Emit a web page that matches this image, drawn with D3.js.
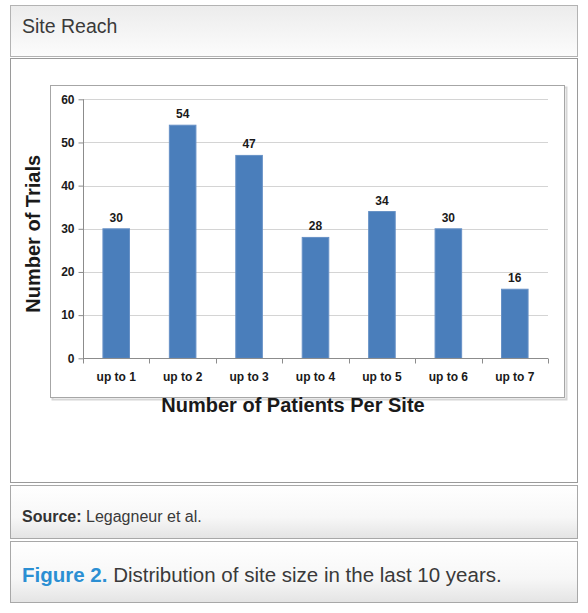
<!DOCTYPE html>
<html>
<head>
<meta charset="utf-8">
<script src="https://cdn.jsdelivr.net/npm/d3@7"></script>
<style>
  body { margin: 0; background: #fff; }
  svg { display: block; }
  .tick text { font-family: "Liberation Sans Narrow", "Liberation Sans", Arial, sans-serif; font-weight: bold; fill: #1a1a1a; }
</style>
</head>
<body>
<div id="chart"></div>
<script>
const categories = ['up to 1', 'up to 2', 'up to 3', 'up to 4', 'up to 5', 'up to 6', 'up to 7'];
const trials = [30, 54, 47, 28, 34, 30, 16];
const yTicks = [0, 10, 20, 30, 40, 50, 60];

const W = 588, H = 613;
const plot = { left: 83, right: 548, top: 99.3, bottom: 358.3 };

const svg = d3.select('#chart').append('svg')
  .attr('width', W)
  .attr('height', H);

const defs = svg.append('defs');
const gHead = defs.append('linearGradient').attr('id', 'gHead').attr('x1', 0).attr('y1', 0).attr('x2', 0).attr('y2', 1);
gHead.append('stop').attr('offset', '0%').attr('stop-color', '#ececec');
gHead.append('stop').attr('offset', '100%').attr('stop-color', '#fcfcfc');
const gFoot = defs.append('linearGradient').attr('id', 'gFoot').attr('x1', 0).attr('y1', 0).attr('x2', 0).attr('y2', 1);
gFoot.append('stop').attr('offset', '0%').attr('stop-color', '#ffffff');
gFoot.append('stop').attr('offset', '60%').attr('stop-color', '#f7f7f7');
gFoot.append('stop').attr('offset', '100%').attr('stop-color', '#e4e4e4');

// frames
svg.append('rect').attr('x', 10.5).attr('y', 5.5).attr('width', 567).attr('height', 51)
  .attr('fill', 'url(#gHead)').attr('stroke', '#b3b3b3');
svg.append('rect').attr('x', 10.5).attr('y', 58.5).attr('width', 567).attr('height', 424)
  .attr('fill', '#fff').attr('stroke', '#9a9a9a');
svg.append('rect').attr('x', 10.5).attr('y', 485.5).attr('width', 567).attr('height', 53)
  .attr('fill', 'url(#gFoot)').attr('stroke', '#a8a8a8');
svg.append('rect').attr('x', 10.5).attr('y', 541.5).attr('width', 567).attr('height', 61)
  .attr('fill', 'url(#gFoot)').attr('stroke', '#a8a8a8');

svg.append('text')
  .attr('x', 22).attr('y', 33)
  .style('font-family', '"Liberation Sans", Arial, sans-serif')
  .style('font-size', '19.5px')
  .attr('fill', '#3a3a3a')
  .text('Site Reach');

const src = svg.append('text')
  .attr('x', 22).attr('y', 522)
  .style('font-family', '"Liberation Sans", Arial, sans-serif')
  .style('font-size', '16px')
  .attr('fill', '#3a3a3a');
src.append('tspan').style('font-weight', 'bold').attr('fill', '#333').text('Source:');
src.append('tspan').text(' Legagneur et al.');

const fig = svg.append('text')
  .attr('x', 22).attr('y', 582)
  .style('font-family', '"Liberation Sans", Arial, sans-serif')
  .style('font-size', '20.5px')
  .attr('fill', '#3a3a3a');
fig.append('tspan').style('font-weight', 'bold').attr('fill', '#2b8fd3').text('Figure 2.');
fig.append('tspan').text(' Distribution of site size in the last 10 years.');

// chart area border with light shadow
svg.append('rect').attr('x', 52.5).attr('y', 87.5).attr('width', 514).attr('height', 312)
  .attr('fill', 'none').attr('stroke', '#d6d6d6').attr('stroke-width', 2);
svg.append('rect').attr('x', 50.5).attr('y', 85.5).attr('width', 514).attr('height', 312)
  .attr('fill', '#fff').attr('stroke', '#a6a6a6');

const x = d3.scaleBand()
  .domain(categories)
  .range([plot.left, plot.right])
  .paddingInner(0.6)
  .paddingOuter(0.3);

const y = d3.scaleLinear()
  .domain([0, 60])
  .range([plot.bottom, plot.top]);

// gridlines
svg.append('g')
  .selectAll('line')
  .data(yTicks.filter(d => d > 0))
  .join('line')
    .attr('x1', plot.left).attr('x2', plot.right)
    .attr('y1', d => Math.round(y(d)) + 0.5).attr('y2', d => Math.round(y(d)) + 0.5)
    .attr('stroke', '#d4d4d4');

// bars
svg.append('g')
  .selectAll('rect')
  .data(trials)
  .join('rect')
    .attr('x', (d, i) => x(categories[i]))
    .attr('y', d => y(d))
    .attr('width', x.bandwidth())
    .attr('height', d => y(0) - y(d))
    .attr('fill', '#4a7ebb')
    .attr('stroke', '#6791c6')
    .attr('stroke-width', 1);

// value labels
svg.append('g')
  .selectAll('text')
  .data(trials)
  .join('text')
    .attr('x', (d, i) => x(categories[i]) + x.bandwidth() / 2)
    .attr('y', d => y(d) - 7)
    .attr('text-anchor', 'middle')
    .style('font-family', '"Liberation Sans", Arial, sans-serif')
    .style('font-weight', 'bold')
    .style('font-size', '12px')
    .attr('fill', '#1a1a1a')
    .text(d => d);

// y axis
const yAxisG = svg.append('g')
  .attr('transform', `translate(${plot.left + 0.5},0)`)
  .call(d3.axisLeft(y).tickValues(yTicks).tickSize(5).tickPadding(4));
yAxisG.selectAll('.tick line').attr('stroke', '#8c8c8c');
yAxisG.select('.domain').attr('stroke', '#8c8c8c').attr('d', `M0,${plot.top}V${plot.bottom}`);
yAxisG.selectAll('.tick text')
  .style('font-family', '"Liberation Sans", Arial, sans-serif')
  .style('font-size', '12px');

// x axis
const xAxisG = svg.append('g')
  .attr('transform', `translate(0,${Math.round(plot.bottom) + 0.5})`)
  .call(d3.axisBottom(x).tickSize(0).tickPadding(14));
xAxisG.select('.domain').attr('stroke', '#8c8c8c').attr('d', `M${plot.left},0H${plot.right}`);
xAxisG.selectAll('.tick text').style('font-size', '12px');

const bounds = categories.map(c => x(c) + x.bandwidth() / 2 - x.step() / 2);
bounds.push(x(categories[categories.length - 1]) + x.bandwidth() / 2 + x.step() / 2);
xAxisG.append('g')
  .selectAll('line')
  .data(bounds)
  .join('line')
    .attr('x1', d => Math.round(d) + 0.5).attr('x2', d => Math.round(d) + 0.5)
    .attr('y1', 0).attr('y2', 5)
    .attr('stroke', '#8c8c8c');

// axis titles
svg.append('text')
  .attr('x', 293)
  .attr('y', 412)
  .attr('text-anchor', 'middle')
  .style('font-family', '"Liberation Sans", Arial, sans-serif')
  .style('font-weight', 'bold')
  .style('font-size', '20px')
  .attr('fill', '#1a1a1a')
  .text('Number of Patients Per Site');

svg.append('text')
  .attr('transform', `translate(40,${(plot.top + plot.bottom) / 2 + 5}) rotate(-90)`)
  .attr('text-anchor', 'middle')
  .style('font-family', '"Liberation Sans", Arial, sans-serif')
  .style('font-weight', 'bold')
  .style('font-size', '20px')
  .attr('fill', '#1a1a1a')
  .text('Number of Trials');
</script>
</body>
</html>
